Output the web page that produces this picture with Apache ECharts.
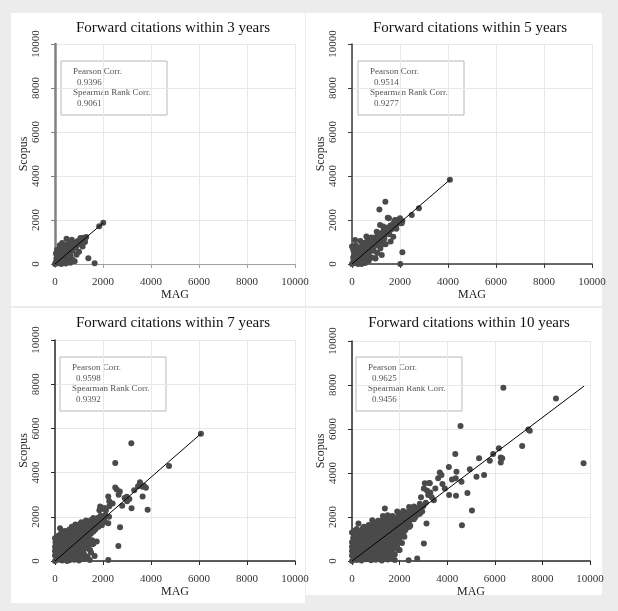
<!DOCTYPE html>
<html>
<head>
<meta charset="utf-8">
<script src="https://cdn.jsdelivr.net/npm/echarts@6/dist/echarts.min.js"></script>
<style>
html, body { margin: 0; padding: 0; background: #ececec; }
#main { width: 618px; height: 611px; }
</style>
</head>
<body>
<div id="main"></div>
<script>
// panel titles and correlation boxes
const titles = ['Forward citations within 3 years', 'Forward citations within 5 years', 'Forward citations within 7 years', 'Forward citations within 10 years']
const pearson = ['0.9396', '0.9514', '0.9598', '0.9625']
const spearman = ['0.9061', '0.9277', '0.9392', '0.9456']
const xName = 'MAG'
const yName = 'Scopus'

// [MAG, Scopus] pairs
const pts3 = [
	[0, 0], [40, 90], [90, 30], [130, 180], [180, 60], [60, 260], [220, 240], [110, 380], [280, 120], [40, 480],
	[170, 470], [320, 330], [360, 90], [250, 560], [400, 420], [460, 250], [90, 650], [300, 700], [430, 600], [520, 470],
	[560, 180], [200, 850], [380, 860], [500, 760], [600, 620], [650, 380], [720, 200], [480, 1150], [560, 960], [680, 830],
	[740, 600], [800, 980], [870, 740], [900, 420], [950, 1050], [1020, 900], [1060, 1180], [1120, 1020], [1180, 1190], [1240, 1130],
	[1000, 560], [820, 130], [640, 60], [450, 20], [260, 0], [1300, 1230], [1390, 260], [1650, 30], [1840, 1720], [2010, 1870],
	[1150, 800], [300, 950], [700, 1100], [1250, 1000],
	[100, 100], [200, 150], [300, 250], [400, 300], [150, 350], [250, 450], [350, 500], [500, 600], [600, 500], [700, 700],
	[800, 800], [900, 850], [1000, 950], [1100, 1100], [650, 900], [550, 800], [450, 700], [350, 600], [200, 650], [100, 550]
]
const pts5 = [
	[0, 0], [60, 150], [150, 40], [200, 250], [100, 400], [300, 120], [350, 380], [220, 550], [50, 650], [420, 200],
	[480, 520], [300, 700], [150, 850], [550, 350], [620, 620], [400, 800], [500, 950], [700, 450], [760, 780], [600, 1000],
	[350, 1050], [680, 1150], [850, 950], [900, 600], [820, 300], [950, 1200], [1000, 850], [1080, 1300], [1150, 1050], [1200, 1400],
	[1250, 1200], [1320, 1550], [1400, 1350], [1450, 1650], [1520, 1450], [1600, 1750], [1680, 1600], [1750, 1900], [1820, 1700], [1900, 2000],
	[1950, 1850], [1050, 500], [1180, 700], [1300, 900], [980, 250], [700, 150], [550, 50], [400, 0], [250, 0], [130, 1090],
	[0, 790], [4080, 3830], [2790, 2530], [2490, 2230], [1390, 2830], [1140, 2480], [1540, 2080], [1490, 2100], [1790, 2000], [2000, 2080],
	[2070, 1850], [2100, 530], [2010, 0], [1170, 1770], [1030, 1470], [1720, 1240], [1610, 1020], [1240, 410], [960, 260], [1300, 1700],
	[1550, 1350], [2100, 1950], [1850, 1600], [800, 1200], [600, 1250], [1400, 900],
	[100, 100], [250, 120], [400, 100], [50, 300], [200, 350], [350, 280], [500, 250], [650, 300], [100, 550], [300, 500],
	[450, 650], [600, 480], [750, 600], [250, 750], [450, 900], [600, 800], [800, 850], [700, 1000], [900, 1050], [1000, 1100],
	[1100, 1200], [1200, 1250], [1300, 1400], [1400, 1500], [1500, 1600], [1600, 1550], [1700, 1800], [900, 750], [1100, 900], [1250, 1050],
	[1350, 1150]
]
const pts7 = [
	[0, 0], [150, 60], [300, 20], [450, 80], [600, 30], [800, 60], [1000, 20], [1200, 90], [1450, 40], [2220, 50],
	[0, 250], [180, 300], [350, 240], [520, 280], [700, 230], [900, 300], [1100, 260], [1350, 200], [1650, 230],
	[0, 450], [200, 480], [380, 430], [560, 470], [740, 420], [920, 480], [1100, 450], [1460, 500],
	[0, 650], [150, 700], [320, 640], [500, 680], [680, 640], [860, 700], [1040, 660], [1240, 620],
	[20, 850], [200, 880], [380, 840], [560, 870], [740, 830], [920, 880], [1100, 850], [1300, 820], [1740, 880],
	[0, 1030], [120, 1050], [300, 1070], [480, 1030], [660, 1060], [840, 1040], [1020, 1080], [1200, 1040], [1380, 1000],
	[250, 1250], [420, 1280], [600, 1240], [780, 1270], [960, 1230], [1140, 1260], [1320, 1220], [1500, 1250],
	[210, 1480], [600, 1430], [780, 1460], [960, 1420], [1140, 1450], [1320, 1420], [1500, 1460], [1680, 1430],
	[850, 1650], [1050, 1680], [1230, 1640], [1410, 1670], [1590, 1650], [1770, 1680], [1950, 1620],
	[1290, 1830], [1500, 1850], [1700, 1870], [1880, 1830], [2050, 1900], [1900, 2050], [2100, 2080], [2250, 2000],
	[100, 150], [250, 160], [400, 140], [550, 170], [700, 150], [900, 160], [1100, 140], [1300, 150],
	[100, 350], [270, 360], [450, 340], [630, 370], [810, 350], [1000, 360], [1200, 340], [1500, 380],
	[100, 550], [290, 560], [470, 540], [650, 570], [830, 550], [1010, 560], [1200, 540], [1380, 570],
	[80, 750], [250, 760], [430, 740], [610, 770], [790, 750], [970, 760], [1150, 740], [1350, 770], [1550, 760],
	[100, 950], [270, 960], [450, 940], [630, 970], [810, 950], [990, 960], [1170, 940], [1350, 960], [1550, 940],
	[150, 1150], [350, 1160], [530, 1140], [710, 1170], [890, 1150], [1070, 1160], [1250, 1140], [1430, 1170],
	[400, 1360], [520, 1350], [700, 1370], [880, 1340], [1060, 1360], [1240, 1330], [1420, 1360], [1600, 1340],
	[700, 1550], [880, 1560], [1060, 1540], [1240, 1570], [1420, 1550], [1600, 1560], [1800, 1540],
	[1100, 1750], [1300, 1760], [1500, 1740], [1700, 1770], [1900, 1750], [2080, 1760],
	[1600, 1950], [1800, 1960], [2000, 1980],
	[3180, 5330], [2510, 4440], [6080, 5760], [4750, 4300], [2510, 3330], [2570, 3230], [2700, 3150], [2650, 3000], [3540, 3560], [3460, 3380],
	[3650, 2920], [3860, 2320], [3190, 2390], [2220, 2920], [2260, 2700], [1880, 2470], [1940, 2350], [1850, 2300], [2050, 2400], [2710, 1530],
	[2640, 680], [2220, 1710], [2900, 2850], [3100, 2800], [3300, 3200], [3700, 3400], [2400, 2600], [2800, 2500], [3000, 2700], [1600, 780],
	[1100, 250], [500, 0], [3650, 3360], [3790, 3320], [2120, 2300], [2260, 2480], [2990, 2910]
]
const pts10 = [
	[0, 0], [200, 50], [400, 20], [600, 80], [800, 30], [1000, 60], [1250, 20], [1500, 70], [1800, 40], [2380, 30], [2740, 110],
	[0, 250], [180, 280], [360, 230], [540, 270], [720, 240], [900, 290], [1100, 250], [1300, 220], [1550, 260], [1800, 300],
	[0, 450], [200, 470], [400, 430], [600, 460], [800, 440], [1000, 480], [1200, 440], [1400, 470], [1650, 420], [1950, 500],
	[0, 650], [180, 680], [360, 640], [540, 670], [720, 650], [900, 690], [1080, 650], [1260, 680], [1440, 640], [1700, 700],
	[0, 850], [200, 880], [400, 840], [600, 870], [800, 850], [1000, 880], [1200, 840], [1400, 870], [1600, 830], [1850, 880], [2100, 820],
	[50, 1050], [250, 1080], [450, 1040], [650, 1070], [850, 1040], [1050, 1080], [1250, 1050], [1450, 1080], [1650, 1040], [1900, 1020],
	[0, 1300], [300, 1250], [500, 1280], [700, 1240], [900, 1270], [1100, 1240], [1300, 1270], [1500, 1240], [1700, 1280], [1950, 1230], [2150, 1250],
	[200, 1450], [450, 1480], [650, 1430], [850, 1460], [1050, 1430], [1250, 1470], [1450, 1440], [1650, 1470], [1850, 1430], [2050, 1480], [2250, 1420],
	[270, 1710], [700, 1640], [900, 1680], [1100, 1650], [1300, 1690], [1500, 1650], [1700, 1680], [1900, 1640], [2100, 1680], [2300, 1650],
	[850, 1850], [1100, 1830], [1300, 1870], [1500, 1840], [1700, 1880], [1900, 1850], [2100, 1880], [2300, 1840], [2500, 1900],
	[1300, 2050], [1500, 2080], [1700, 2040], [1950, 2070], [2150, 2040], [2350, 2080], [2550, 2050], [2750, 2100],
	[1900, 2250], [2150, 2270], [2350, 2230], [2550, 2260], [2750, 2280], [2950, 2250],
	[2400, 2450], [2600, 2480], [2800, 2440], [3000, 2500],
	[100, 150], [300, 160], [500, 140], [700, 170], [900, 150], [1150, 140], [1400, 160], [1650, 150],
	[100, 350], [280, 360], [460, 340], [640, 370], [820, 350], [1000, 360], [1200, 340], [1450, 360], [1700, 350],
	[100, 550], [300, 560], [500, 540], [700, 570], [900, 550], [1100, 560], [1300, 540], [1550, 560], [1800, 580],
	[100, 750], [280, 760], [460, 740], [640, 770], [820, 750], [1000, 760], [1180, 740], [1360, 770], [1560, 750], [1800, 760],
	[100, 950], [300, 960], [500, 940], [700, 970], [900, 950], [1100, 960], [1300, 940], [1500, 970], [1750, 950], [2000, 930],
	[150, 1150], [350, 1160], [550, 1140], [750, 1170], [950, 1150], [1150, 1160], [1350, 1140], [1550, 1170], [1800, 1150], [2050, 1130],
	[100, 1380], [350, 1350], [580, 1360], [780, 1340], [980, 1370], [1180, 1350], [1380, 1360], [1580, 1340], [1780, 1370], [2000, 1340], [2200, 1360],
	[500, 1560], [780, 1550], [980, 1570], [1180, 1540], [1380, 1570], [1580, 1550], [1780, 1560], [1980, 1540], [2200, 1570], [2400, 1550],
	[1000, 1750], [1200, 1760], [1400, 1740], [1600, 1770], [1800, 1750], [2000, 1760], [2200, 1740], [2400, 1770],
	[1400, 1950], [1600, 1960], [1800, 1940], [2000, 1970], [2200, 1950], [2450, 1960], [2650, 1980],
	[2000, 2150], [2250, 2160], [2450, 2140], [2650, 2170], [2850, 2150],
	[2500, 2350], [2700, 2360], [2900, 2340],
	[1380, 2390], [6360, 7880], [8570, 7390], [9730, 4440], [7410, 5980], [7470, 5920], [7150, 5230], [4560, 6140], [4340, 4860], [4070, 4270],
	[6170, 5120], [6250, 4710], [6310, 4670], [6250, 4480], [5790, 4560], [5930, 4860], [5340, 4670], [4950, 4170], [5550, 3910], [5230, 3830],
	[4390, 4060], [4360, 3760], [3690, 4020], [3760, 3910], [3620, 3760], [3060, 3530], [3270, 3530], [3020, 3300], [3150, 3200], [3240, 3550],
	[3290, 3110], [3440, 2760], [4600, 3600], [4850, 3090], [4080, 3000], [4370, 2970], [5040, 2300], [4620, 1620], [3130, 1710], [3020, 800],
	[2900, 2900], [3100, 2650], [3350, 2900], [2850, 2600], [3200, 3000], [2700, 2400], [3500, 3300], [3800, 3500], [4200, 3700], [3900, 3300],
	[2600, 1900], [2450, 1600], [2200, 1100], [1900, 700], [2000, 500], [1600, 300]
]
const points = [pts3, pts5, pts7, pts10]

// fitted line ends per panel
const fitLines = [
	[[0, 0], [2010, 1870]],
	[[0, 0], [4080, 3830]],
	[[0, 0], [6080, 5760]],
	[[0, 0], [9750, 7950]]
]

// layout of the four white panels (page pixels)
const panels = [
	{ x: 11, y: 13, w: 294, h: 293, gl: 55, gt: 44, gw: 240, gh: 220, box: [61, 61] },
	{ x: 306, y: 13, w: 296, h: 293, gl: 352, gt: 44, gw: 240, gh: 220, box: [358, 61] },
	{ x: 11, y: 308, w: 294, h: 295, gl: 55, gt: 340, gw: 240, gh: 221, box: [60, 357] },
	{ x: 306, y: 308, w: 296, h: 287, gl: 352, gt: 341, gw: 238, gh: 220, box: [356, 357] }
]
const yAxisColors = ['#808080', '#3a3a3a', '#2a2a2a', '#2a2a2a']
const yAxisWidths = [2.5, 1.5, 1.5, 1.5]
const xAxisColors = ['#a0a0a0', '#3a3a3a', '#2a2a2a', '#2a2a2a']
const xAxisWidths = [1, 1.5, 1.5, 1.5]
const serif = '"Liberation Serif", "Times New Roman", serif'

var chart = echarts.init(document.getElementById('main'), null, { renderer: 'canvas' })

var grids = [], xAxes = [], yAxes = [], series = [], graphics = []
panels.forEach(function (p, i) {
	graphics.push({
		type: 'rect', z: -10, silent: true,
		shape: { x: p.x, y: p.y, width: p.w, height: p.h },
		style: { fill: '#ffffff' }
	})
	graphics.push({
		type: 'text', x: p.gl + p.gw / 2 - 2, y: p.y + 15, silent: true,
		style: { text: titles[i], font: '15px ' + serif, fill: '#111', textAlign: 'center', align: 'center', textVerticalAlign: 'middle', verticalAlign: 'middle' }
	})
	var bx = p.box[0], by = p.box[1]
	graphics.push({
		type: 'rect', silent: true,
		shape: { x: bx, y: by, width: 106, height: 54 },
		style: { fill: '#ffffff', stroke: '#b8b8b8', lineWidth: 1 }
	})
	var lines = [['Pearson Corr.', 12], [pearson[i], 16], ['Spearman Rank Corr.', 12], [spearman[i], 16]]
	lines.forEach(function (l, k) {
		graphics.push({
			type: 'text', x: bx + l[1], y: by + 11 + k * 10.5, silent: true,
			style: { text: l[0], font: '9px ' + serif, fill: '#555', textVerticalAlign: 'middle', verticalAlign: 'middle' }
		})
	})

	grids.push({ left: p.gl, top: p.gt, width: p.gw, height: p.gh })
	var fmt = function (v) { return String(v) }
	xAxes.push({
		gridIndex: i, type: 'value', min: 0, max: 10000, interval: 2000, offset: 7,
		axisLine: { show: true, lineStyle: { color: xAxisColors[i], width: xAxisWidths[i] } },
		axisTick: { show: true, length: 4, lineStyle: { color: xAxisColors[i] } },
		axisLabel: { fontFamily: serif, fontSize: 11, color: '#333', margin: 6, formatter: fmt },
		splitLine: { show: true, lineStyle: { color: '#e8e8e8', width: 1 } },
		name: xName, nameLocation: 'middle', nameGap: 14,
		nameTextStyle: { fontFamily: serif, fontSize: 12, color: '#222' }
	})
	yAxes.push({
		gridIndex: i, type: 'value', min: 0, max: 10000, interval: 2000, offset: 6,
		axisLine: { show: true, lineStyle: { color: yAxisColors[i], width: yAxisWidths[i] } },
		axisTick: { show: true, length: 4, lineStyle: { color: yAxisColors[i] } },
		axisLabel: { fontFamily: serif, fontSize: 11, color: '#333', margin: 7, rotate: 90, formatter: fmt },
		splitLine: { show: true, lineStyle: { color: '#e8e8e8', width: 1 } },
		name: yName, nameLocation: 'middle', nameGap: 11,
		nameTextStyle: { fontFamily: serif, fontSize: 12, color: '#222' }
	})
	series.push({
		type: 'scatter', xAxisIndex: i, yAxisIndex: i, data: points[i],
		symbolSize: 6, itemStyle: { color: '#4a4a4a', opacity: 1 }, z: 2
	})
	series.push({
		type: 'line', xAxisIndex: i, yAxisIndex: i, data: fitLines[i],
		symbol: 'none', lineStyle: { color: '#000', width: 1 }, z: 3
	})
})

chart.setOption({
	backgroundColor: '#ececec',
	animation: false,
	grid: grids,
	xAxis: xAxes,
	yAxis: yAxes,
	series: series,
	graphic: { elements: graphics }
})
</script>
</body>
</html>
